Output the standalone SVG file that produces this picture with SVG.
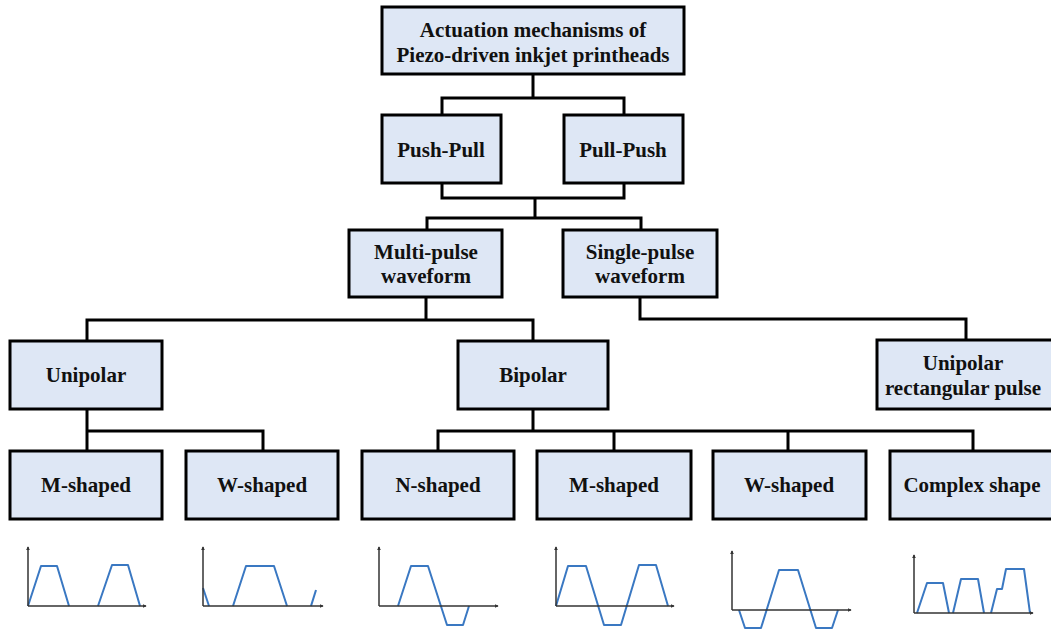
<svg xmlns="http://www.w3.org/2000/svg" width="1051" height="631" viewBox="0 0 1051 631">
<style>
.box{fill:#dee7f5;stroke:#000;stroke-width:3}
.t{font-family:"Liberation Serif","Times New Roman",serif;font-weight:bold;font-size:21px;fill:#111;text-anchor:middle}
.c{fill:none;stroke:#000;stroke-width:3}
.ax{fill:none;stroke:#333;stroke-width:1.5;marker-end:url(#ah)}
.w{fill:none;stroke:#3a78c2;stroke-width:2;stroke-linejoin:round}
</style>
<defs>
<marker id="ah" viewBox="0 0 6 6" refX="5" refY="3" markerWidth="4" markerHeight="4" orient="auto" markerUnits="userSpaceOnUse">
<path d="M0,0 L6,3 L0,6 z" fill="#333"/>
</marker>
</defs>
<rect width="1051" height="631" fill="#fff"/>
<g id="connectors">
<path class="c" d="M533,74 V98 M442,115 V98 H624 V115"/>
<path class="c" d="M442,183 V198 H624 V183 M535,198 V218 M427,230 V218 H641 V230"/>
<path class="c" d="M426,297 V320 M87,341 V320 H533 V341"/>
<path class="c" d="M640,297 V319 H966 V340"/>
<path class="c" d="M87,409 V451 M87,431 H263 V451"/>
<path class="c" d="M533,409 V431 M438,451 V431 H973 V451 M614,431 V451 M788,431 V451"/>
</g>
<g id="root"><rect class="box" x="382" y="7" width="302" height="67"/><text class="t" x="533" y="37">Actuation mechanisms of</text><text class="t" x="533" y="62">Piezo-driven inkjet printheads</text></g>
<g id="pushpull"><rect class="box" x="382" y="115" width="119" height="68"/><text class="t" x="441" y="157">Push-Pull</text></g>
<g id="pullpush"><rect class="box" x="564" y="115" width="119" height="68"/><text class="t" x="623" y="157">Pull-Push</text></g>
<g id="multi"><rect class="box" x="349" y="230" width="153" height="67"/><text class="t" x="426" y="259">Multi-pulse</text><text class="t" x="426" y="283">waveform</text></g>
<g id="single"><rect class="box" x="563" y="230" width="154" height="67"/><text class="t" x="640" y="259">Single-pulse</text><text class="t" x="640" y="283">waveform</text></g>
<g id="unipolar"><rect class="box" x="10" y="341" width="152" height="68"/><text class="t" x="86" y="382">Unipolar</text></g>
<g id="bipolar"><rect class="box" x="458" y="341" width="150" height="68"/><text class="t" x="533" y="382">Bipolar</text></g>
<g id="unirect"><rect class="box" x="877" y="340" width="178" height="69"/><text class="t" x="963" y="370">Unipolar</text><text class="t" x="963" y="395">rectangular pulse</text></g>
<g id="m1"><rect class="box" x="10" y="451" width="152" height="68"/><text class="t" x="86" y="492">M-shaped</text></g>
<g id="w1"><rect class="box" x="186" y="451" width="152" height="68"/><text class="t" x="262" y="492">W-shaped</text></g>
<g id="n"><rect class="box" x="362" y="451" width="152" height="68"/><text class="t" x="438" y="492">N-shaped</text></g>
<g id="m2"><rect class="box" x="537" y="451" width="154" height="68"/><text class="t" x="614" y="492">M-shaped</text></g>
<g id="w2"><rect class="box" x="713" y="451" width="153" height="68"/><text class="t" x="789" y="492">W-shaped</text></g>
<g id="complex"><rect class="box" x="890" y="451" width="165" height="68"/><text class="t" x="972" y="492">Complex shape</text></g>
<g id="wave-m1">
<polyline class="w" points="28,606 41,566 57,566 69,606"/>
<polyline class="w" points="98,606 112,565 128,565 140,606"/>
<path class="ax" d="M28,606 V547"/><path class="ax" d="M28,606 H146"/>
</g>
<g id="wave-w1">
<polyline class="w" points="203,588 209,606"/>
<polyline class="w" points="233,606 246,566 274,566 287,606"/>
<polyline class="w" points="311,606 316,590"/>
<path class="ax" d="M203,606 V547"/><path class="ax" d="M203,606 H323"/>
</g>
<g id="wave-n">
<polyline class="w" points="398,606 411,566 428,566 447,625 463,625 469,606"/>
<path class="ax" d="M379,606 V547"/><path class="ax" d="M379,606 H498"/>
</g>
<g id="wave-m2">
<polyline class="w" points="556,606 568,566 586,566 604,625 621,625 639,565 656,565 668,606"/>
<path class="ax" d="M556,606 V547"/><path class="ax" d="M556,606 H674"/>
</g>
<g id="wave-w2">
<polyline class="w" points="739,610 745,628 761,628 779,570 798,570 816,628 832,628 838,610"/>
<path class="ax" d="M732,610 V551"/><path class="ax" d="M732,610 H851"/>
</g>
<g id="wave-complex">
<polyline class="w" points="917,613 927,583 943,583 949,613"/>
<polyline class="w" points="953,613 961,579 978,579 984,613"/>
<polyline class="w" points="991,613 997,589 1002,589 1006,569 1024,569 1030,613"/>
<path class="ax" d="M914,613 V555"/><path class="ax" d="M914,613 H1033"/>
</g>
</svg>
